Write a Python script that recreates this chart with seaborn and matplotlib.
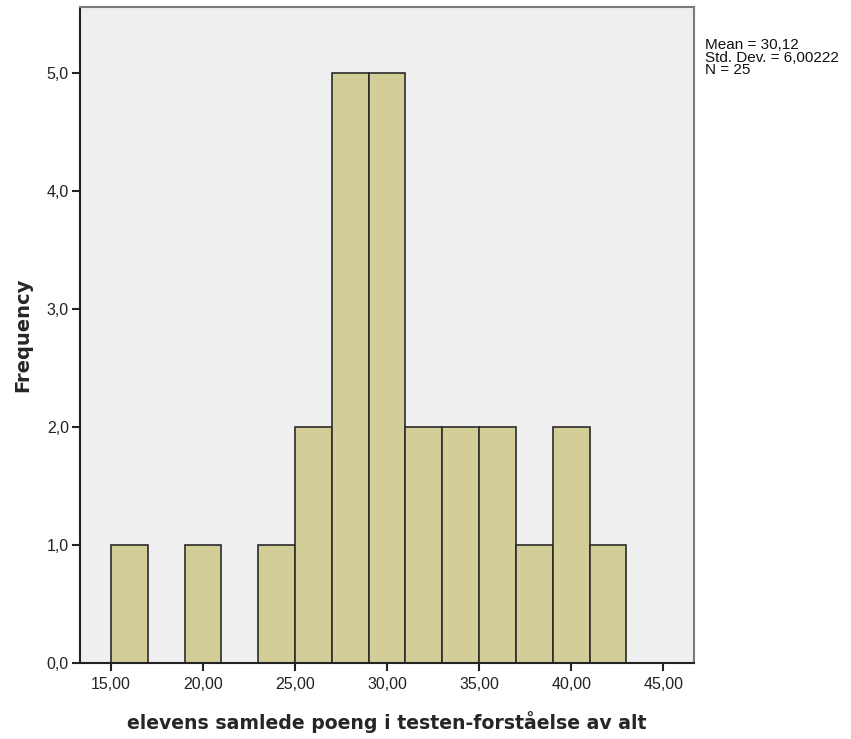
import matplotlib
import numpy as np
import seaborn as sns
from matplotlib import pyplot as plt
from matplotlib.ticker import FuncFormatter

matplotlib.use("Agg")

# histogram bins (width 2) and the counts
bin_edges = [15, 17, 19, 21, 23, 25, 27, 29, 31, 33, 35, 37, 39, 41, 43]
counts = [1, 0, 1, 0, 1, 2, 5, 5, 2, 2, 2, 1, 2, 1]
stats_lines = ["Mean = 30,12", "Std. Dev. = 6,00222", "N = 25"]
x_label = "elevens samlede poeng i testen-forståelse av alt"
y_label = "Frequency"

sns.set_style("white")
plt.rcParams['font.family'] = ['Liberation Sans', 'DejaVu Sans']

centers = [(a + b) / 2 for a, b in zip(bin_edges[:-1], bin_edges[1:])]

fig = plt.figure(figsize=(8.51, 7.39), dpi=100)
ax = fig.add_axes([0.094, 0.103, 0.7215, 0.8875])
ax.set_facecolor("#efefef")

sns.histplot(x=centers, weights=counts, bins=bin_edges, ax=ax,
             color="#d3ce97", alpha=1, edgecolor="#2b2b2b", linewidth=1.2)

ax.set_xlim(13.32, 46.67)
ax.set_ylim(0, 5.56)
ax.set_xticks(np.arange(15, 46, 5))
ax.set_yticks(np.arange(0, 6, 1))
ax.xaxis.set_major_formatter(FuncFormatter(lambda v, p: f"{v:.2f}".replace(".", ",")))
ax.yaxis.set_major_formatter(FuncFormatter(lambda v, p: f"{v:.1f}".replace(".", ",")))
ax.tick_params(axis="both", bottom=True, left=True, direction="out", length=6, width=1.5,
               color="#222222", labelsize=11.5, labelcolor="#222222", pad=2)
ax.tick_params(axis="x", pad=4)

for side in ["left", "bottom"]:
    ax.spines[side].set_color("#222222")
    ax.spines[side].set_linewidth(1.5)
for side in ["top", "right"]:
    ax.spines[side].set_color("#7a7a7a")
    ax.spines[side].set_linewidth(1.5)

ax.set_xlabel(x_label, family="DejaVu Sans", fontweight="bold", fontsize=13.6, labelpad=14)
ax.set_ylabel(y_label, family="DejaVu Sans", fontweight="bold", fontsize=14, labelpad=10)

fig.text(0.828, 0.948, "\n".join(stats_lines), fontsize=11, linespacing=0.85,
         va="top", ha="left", color="#111111")

plt.savefig("out.png", dpi=100)
